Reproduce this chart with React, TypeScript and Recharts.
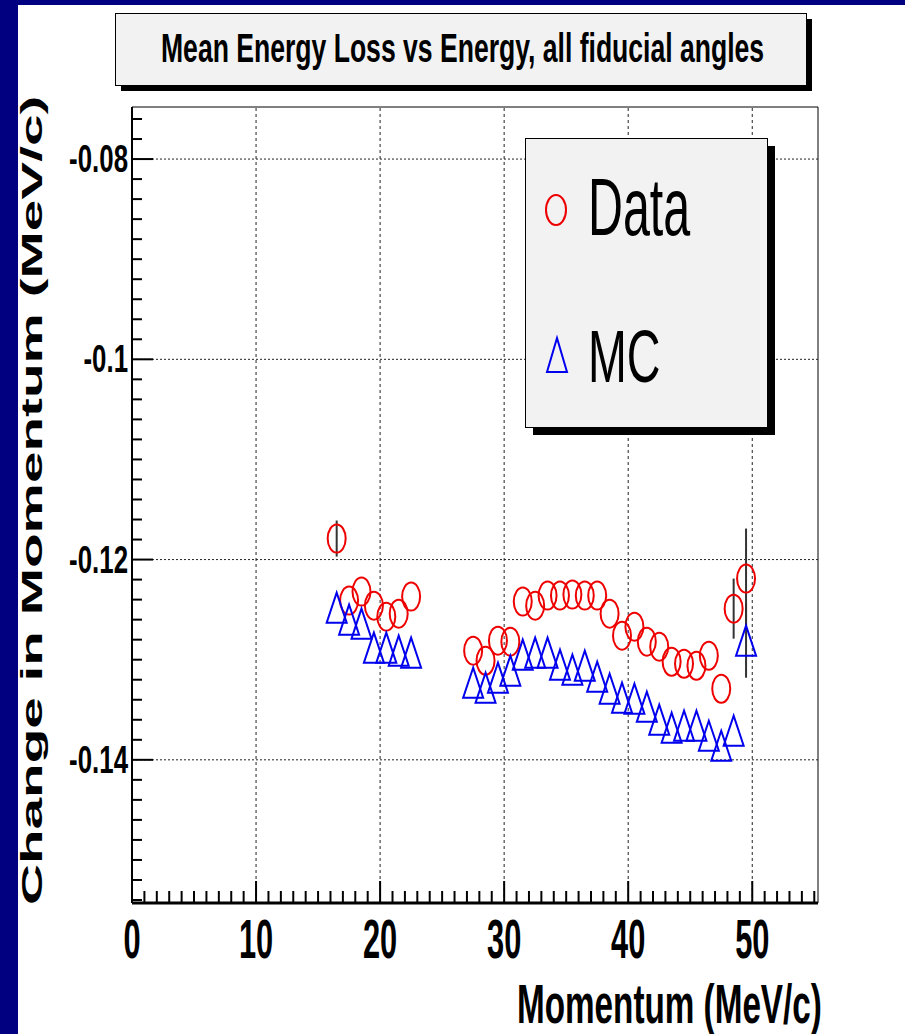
import React from 'react'
import { ScatterChart, Scatter, XAxis, YAxis, ReferenceLine, ReferenceArea, ErrorBar, Legend } from 'recharts'

// bin centres (MeV/c)
const momentum = [
  16.5, 17.5, 18.5, 19.5, 20.5, 21.5, 22.5, 27.5, 28.5, 29.5, 30.5, 31.5, 32.5, 33.5, 34.5,
  35.5, 36.5, 37.5, 38.5, 39.5, 40.5, 41.5, 42.5, 43.5, 44.5, 45.5, 46.5, 47.5, 48.5, 49.5
]
const dataLoss = [
  -0.1179, -0.1241, -0.1232, -0.1246, -0.1257, -0.1254, -0.1237, -0.1291, -0.1301, -0.1281,
  -0.1282, -0.1242, -0.1246, -0.1236, -0.1236, -0.1235, -0.1236, -0.1236, -0.1254, -0.1276,
  -0.1267, -0.1282, -0.1287, -0.1302, -0.1304, -0.1306, -0.1296, -0.1329, -0.1249, -0.1219
]
const dataErr = [
  0.0018, 0, 0, 0, 0, 0, 0, 0, 0, 0, 0, 0, 0, 0, 0, 0, 0, 0, 0, 0, 0, 0, 0, 0, 0, 0, 0, 0,
  0.003, 0.005
]
const mcLoss = [
  -0.1248, -0.126, -0.1264, -0.1288, -0.1288, -0.1291, -0.1293, -0.1323, -0.1328, -0.1318,
  -0.1311, -0.1295, -0.1293, -0.1293, -0.1305, -0.131, -0.1306, -0.1317, -0.1329, -0.1338,
  -0.1339, -0.1347, -0.136, -0.1368, -0.1366, -0.1366, -0.1376, -0.1386, -0.1371, -0.1281
]
const mcErr = [
  0, 0, 0, 0, 0, 0, 0, 0, 0, 0, 0, 0, 0, 0, 0, 0, 0, 0, 0, 0, 0, 0, 0, 0, 0, 0, 0, 0, 0, 0.0037
]

const xMajor = [0, 10, 20, 30, 40, 50]
const yMajor = [-0.08, -0.1, -0.12, -0.14]
const xGrid = [10, 20, 30, 40, 50]
const xDomain = [0, 55.3]
const yDomain = [-0.1543, -0.0748]

const xTicks = Array.from({ length: 56 }, (_, i) => i)
const yTicks = Array.from({ length: 40 }, (_, i) => Math.round((-0.154 + 0.002 * i) * 1000) / 1000)

const dataRows = momentum.map((x, i) => ({ x, y: dataLoss[i], err: dataErr[i] }))
const mcRows = momentum.map((x, i) => ({ x, y: mcLoss[i], err: mcErr[i] }))

const FONT = '"Liberation Sans", Arial, sans-serif'
const RED = '#ee0000'
const BLUE = '#0000ee'

const isMajor = (list: number[], v: number) => list.some((m) => Math.abs(m - v) < 1e-6)

const XTick = (props: any) => {
  const { x, y, payload } = props
  const major = isMajor(xMajor, payload.value)
  return (
    <g>
      <line x1={x} x2={x} y1={y} y2={y - (major ? 22 : 12)} stroke="#000" strokeWidth={2} />
      {major && (
        <text
          transform={`translate(${x} ${y + 55}) scale(0.55 1)`}
          textAnchor="middle"
          fontFamily={FONT}
          fontWeight="bold"
          fontSize={56}
          fill="#000"
        >
          {payload.value}
        </text>
      )}
    </g>
  )
}

const YTick = (props: any) => {
  const { x, y, payload } = props
  const major = isMajor(yMajor, payload.value)
  return (
    <g>
      <line x1={x} x2={x + (major ? 21 : 10)} y1={y} y2={y} stroke="#000" strokeWidth={2} />
      {major && (
        <text
          transform={`translate(${x - 4} ${y + 13}) scale(0.68 1)`}
          textAnchor="end"
          fontFamily={FONT}
          fontWeight="bold"
          fontSize={38}
          fill="#000"
        >
          {payload.value}
        </text>
      )}
    </g>
  )
}

const Ring = (p: any) => (
  <ellipse cx={p.cx} cy={p.cy} rx={9} ry={14} fill="none" stroke={RED} strokeWidth={2} />
)

const Tri = (p: any) => (
  <polygon
    points={`${p.cx},${p.cy - 15} ${p.cx - 10},${p.cy + 15} ${p.cx + 10},${p.cy + 15}`}
    fill="none"
    stroke={BLUE}
    strokeWidth={2}
  />
)

const LegendBox = (props: any) => {
  const items = props.payload || []
  return (
    <svg width={262} height={300} style={{ display: 'block' }}>
      <rect x={8} y={8} width={242} height={289} fill="#000" />
      <rect x={0.5} y={0.5} width={242} height={289} fill="#f2f2f2" stroke="#000" />
      {items.map((it: any, i: number) => {
        const cy = i === 0 ? 72 : 217
        const base = i === 0 ? 97 : 244
        return (
          <g key={it.value}>
            {i === 0 ? (
              <ellipse cx={31} cy={cy} rx={10} ry={15} fill="none" stroke={RED} strokeWidth={2} />
            ) : (
              <polygon
                points={`32,${cy - 17} 22,${cy + 17} 42,${cy + 17}`}
                fill="none"
                stroke={BLUE}
                strokeWidth={2}
              />
            )}
            <text
              transform={`translate(63 ${base}) scale(${i === 0 ? 0.59 : 0.63} 1)`}
              fontFamily={FONT}
              fontSize={i === 0 ? 82 : 74}
              fill="#000"
            >
              {it.value}
            </text>
          </g>
        )
      })}
    </svg>
  )
}

const App = () => {
  return (
    <div style={{ position: 'absolute', left: 0, top: 0, width: 905, height: 1034, background: '#000080', overflow: 'hidden' }}>
      <div style={{ position: 'absolute', left: 18, top: 5, right: 0, bottom: 0, background: '#fff' }} />
      <div style={{ position: 'absolute', left: 0, top: 0 }}>
        <ScatterChart width={905} height={1034} margin={{ top: 107, right: 87, bottom: 0, left: 0 }}>
          <XAxis
            type="number"
            dataKey="x"
            domain={xDomain}
            ticks={xTicks}
            interval={0}
            allowDataOverflow
            height={131}
            tickSize={0}
            tickMargin={0}
            tickLine={false}
            axisLine={{ stroke: '#000', strokeWidth: 3 }}
            tick={<XTick />}
          />
          <YAxis
            type="number"
            dataKey="y"
            domain={yDomain}
            ticks={yTicks}
            interval={0}
            allowDataOverflow
            width={132}
            tickSize={0}
            tickMargin={0}
            tickLine={false}
            axisLine={{ stroke: '#000', strokeWidth: 2 }}
            tick={<YTick />}
          />
          {xGrid.map((v) => (
            <ReferenceLine key={'gx' + v} x={v} stroke="#222" strokeDasharray="3 3" />
          ))}
          {yMajor.map((v) => (
            <ReferenceLine key={'gy' + v} y={v} stroke="#222" strokeDasharray="2 2" />
          ))}
          <ReferenceArea x1={xDomain[0]} x2={xDomain[1]} y1={yDomain[0]} y2={yDomain[1]} fill="none" stroke="#000" strokeWidth={1} />
          <Legend
            layout="horizontal"
            verticalAlign="middle"
            align="center"
            content={<LegendBox />}
            wrapperStyle={{ left: 525, top: 138, width: 262, height: 300 }}
          />
          <Scatter name="Data" data={dataRows} shape={Ring} isAnimationActive={false}>
            <ErrorBar dataKey="err" direction="y" width={0} stroke="#333" strokeWidth={2} />
          </Scatter>
          <Scatter name="MC" data={mcRows} shape={Tri} isAnimationActive={false}>
            <ErrorBar dataKey="err" direction="y" width={0} stroke="#333" strokeWidth={2} />
          </Scatter>
        </ScatterChart>
      </div>
      <svg width={905} height={1034} style={{ position: 'absolute', left: 0, top: 0, pointerEvents: 'none' }}>
        <rect x={121} y={19} width={691} height={72} fill="#000" />
        <rect x={115.5} y={13.5} width={691} height={72} fill="#f2f2f2" stroke="#000" />
        <text transform="translate(161 62) scale(0.648 1)" fontFamily={FONT} fontWeight="bold" fontSize={41} fill="#000">
          Mean Energy Loss vs Energy, all fiducial angles
        </text>
        <text transform="translate(517 1023) scale(0.594 1)" fontFamily={FONT} fontWeight="bold" fontSize={56} fill="#000">
          Momentum (MeV/c)
        </text>
        <text
          transform="translate(42 905) rotate(-90) scale(1.89 1)"
          fontFamily={FONT}
          fontWeight="bold"
          fontSize={30}
          fill="#000"
        >
          Change in Momentum (MeV/c)
        </text>
      </svg>
    </div>
  )
}

export default App
